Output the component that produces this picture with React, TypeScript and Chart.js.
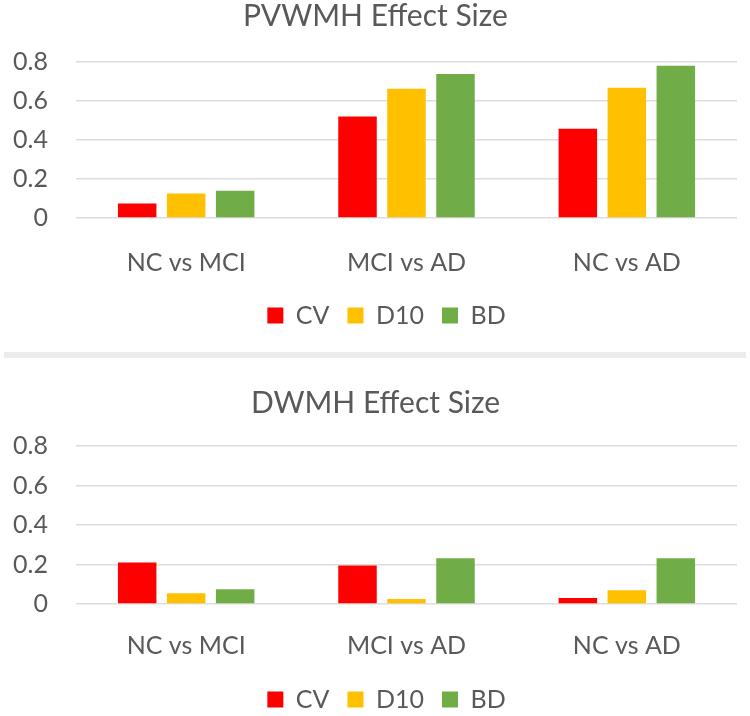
import React, { useEffect, useRef } from "react";
import { Chart, registerables } from "chart.js";

Chart.register(...registerables);

const categories = ["NC vs MCI", "MCI vs AD", "NC vs AD"];
const seriesNames = ["CV", "D10", "BD"];
const seriesColors = ["#FF0000", "#FFC000", "#70AD47"];

const pvwmhCV = [0.075, 0.52, 0.458];
const pvwmhD10 = [0.126, 0.663, 0.668];
const pvwmhBD = [0.14, 0.738, 0.781];

const dwmhCV = [0.21, 0.195, 0.03];
const dwmhD10 = [0.055, 0.025, 0.07];
const dwmhBD = [0.075, 0.232, 0.232];

const yMin = 0;
const yMax = 0.8;
const yStep = 0.2;

const FONT = "Lato, 'Open Sans', sans-serif";
const TEXT = "#595959";

type Layout = {
  canvasHeight: number;
  padBottom: number;
  titlePadTop: number;
  titlePadBottom: number;
  xAxisHeight: number;
  xTickPad: number;
  legendPad: number;
};

// nudges the library's own title and legend boxes to the right, as in the reference
const boxShift = {
  id: "boxShift",
  afterLayout(chart: any) {
    const lg = chart.legend;
    if (lg) {
      lg.left += 18;
      lg.right += 18;
    }
    const tb = chart.titleBlock;
    if (tb) {
      tb.left += 7;
      tb.right += 7;
    }
  },
};

function EffectChart(props: {
  title: string;
  series: number[][];
  layout: Layout;
}) {
  const ref = useRef<HTMLCanvasElement | null>(null);
  useEffect(() => {
    if (!ref.current) return;
    const L = props.layout;
    const chart = new Chart(ref.current, {
      type: "bar",
      data: {
        labels: categories,
        datasets: props.series.map((vals, i) => ({
          label: seriesNames[i],
          data: vals,
          backgroundColor: seriesColors[i],
          borderWidth: 0,
          categoryPercentage: 0.667,
          barPercentage: 0.786,
        })),
      },
      plugins: [boxShift],
      options: {
        animation: false,
        responsive: false,
        maintainAspectRatio: false,
        layout: { padding: { left: 0, right: 13, top: 0, bottom: L.padBottom } },
        plugins: {
          title: {
            display: true,
            text: props.title,
            color: TEXT,
            font: { family: FONT, size: 30, weight: "normal", lineHeight: 1.1 },
            padding: { top: L.titlePadTop, bottom: L.titlePadBottom },
          },
          legend: {
            display: true,
            position: "bottom",
            labels: {
              color: TEXT,
              font: { family: FONT, size: 25, lineHeight: 1.2 },
              boxWidth: 16,
              boxHeight: 16,
              padding: L.legendPad,
            },
          },
          tooltip: { enabled: false },
        },
        scales: {
          x: {
            grid: { display: false, drawTicks: false },
            border: { display: false },
            ticks: {
              color: TEXT,
              font: { family: FONT, size: 25, lineHeight: 1.2 },
              padding: L.xTickPad,
              maxRotation: 0,
            },
            afterFit: (s: any) => {
              s.height = L.xAxisHeight;
            },
          },
          y: {
            min: yMin,
            max: yMax,
            grid: { color: "#DDDDDD", lineWidth: 1.5, drawTicks: false },
            border: { display: false },
            ticks: {
              stepSize: yStep,
              color: TEXT,
              font: { family: FONT, size: 25, lineHeight: 1.2 },
              padding: 28,
            },
            afterFit: (s: any) => {
              s.width = 76;
            },
          },
        },
      },
    });
    return () => chart.destroy();
  }, []);
  return (
    <canvas
      ref={ref}
      width={750}
      height={props.layout.canvasHeight}
      style={{ display: "block", width: 750, height: props.layout.canvasHeight }}
    />
  );
}

export default function App() {
  return (
    <div
      style={{
        position: "absolute",
        left: 0,
        top: 0,
        width: 750,
        height: 716,
        background: "#ffffff",
        overflow: "hidden",
      }}
    >
      <div style={{ position: "absolute", left: 0, top: 0, width: 750, height: 352, overflow: "hidden" }}>
        <EffectChart
          title="PVWMH Effect Size"
          series={[pvwmhCV, pvwmhD10, pvwmhBD]}
          layout={{
            canvasHeight: 352,
            padBottom: 14,
            titlePadTop: 0,
            titlePadBottom: 29,
            xAxisHeight: 67,
            xTickPad: 30,
            legendPad: 18,
          }}
        />
      </div>
      <div
        style={{
          position: "absolute",
          left: 4,
          top: 352,
          width: 742,
          height: 6,
          background: "#ececec",
        }}
      />
      <div style={{ position: "absolute", left: 0, top: 358, width: 750, height: 358, overflow: "hidden" }}>
        <EffectChart
          title="DWMH Effect Size"
          series={[dwmhCV, dwmhD10, dwmhBD]}
          layout={{
            canvasHeight: 364,
            padBottom: 0,
            titlePadTop: 29,
            titlePadBottom: 26,
            xAxisHeight: 65,
            xTickPad: 27,
            legendPad: 18,
          }}
        />
      </div>
    </div>
  );
}
